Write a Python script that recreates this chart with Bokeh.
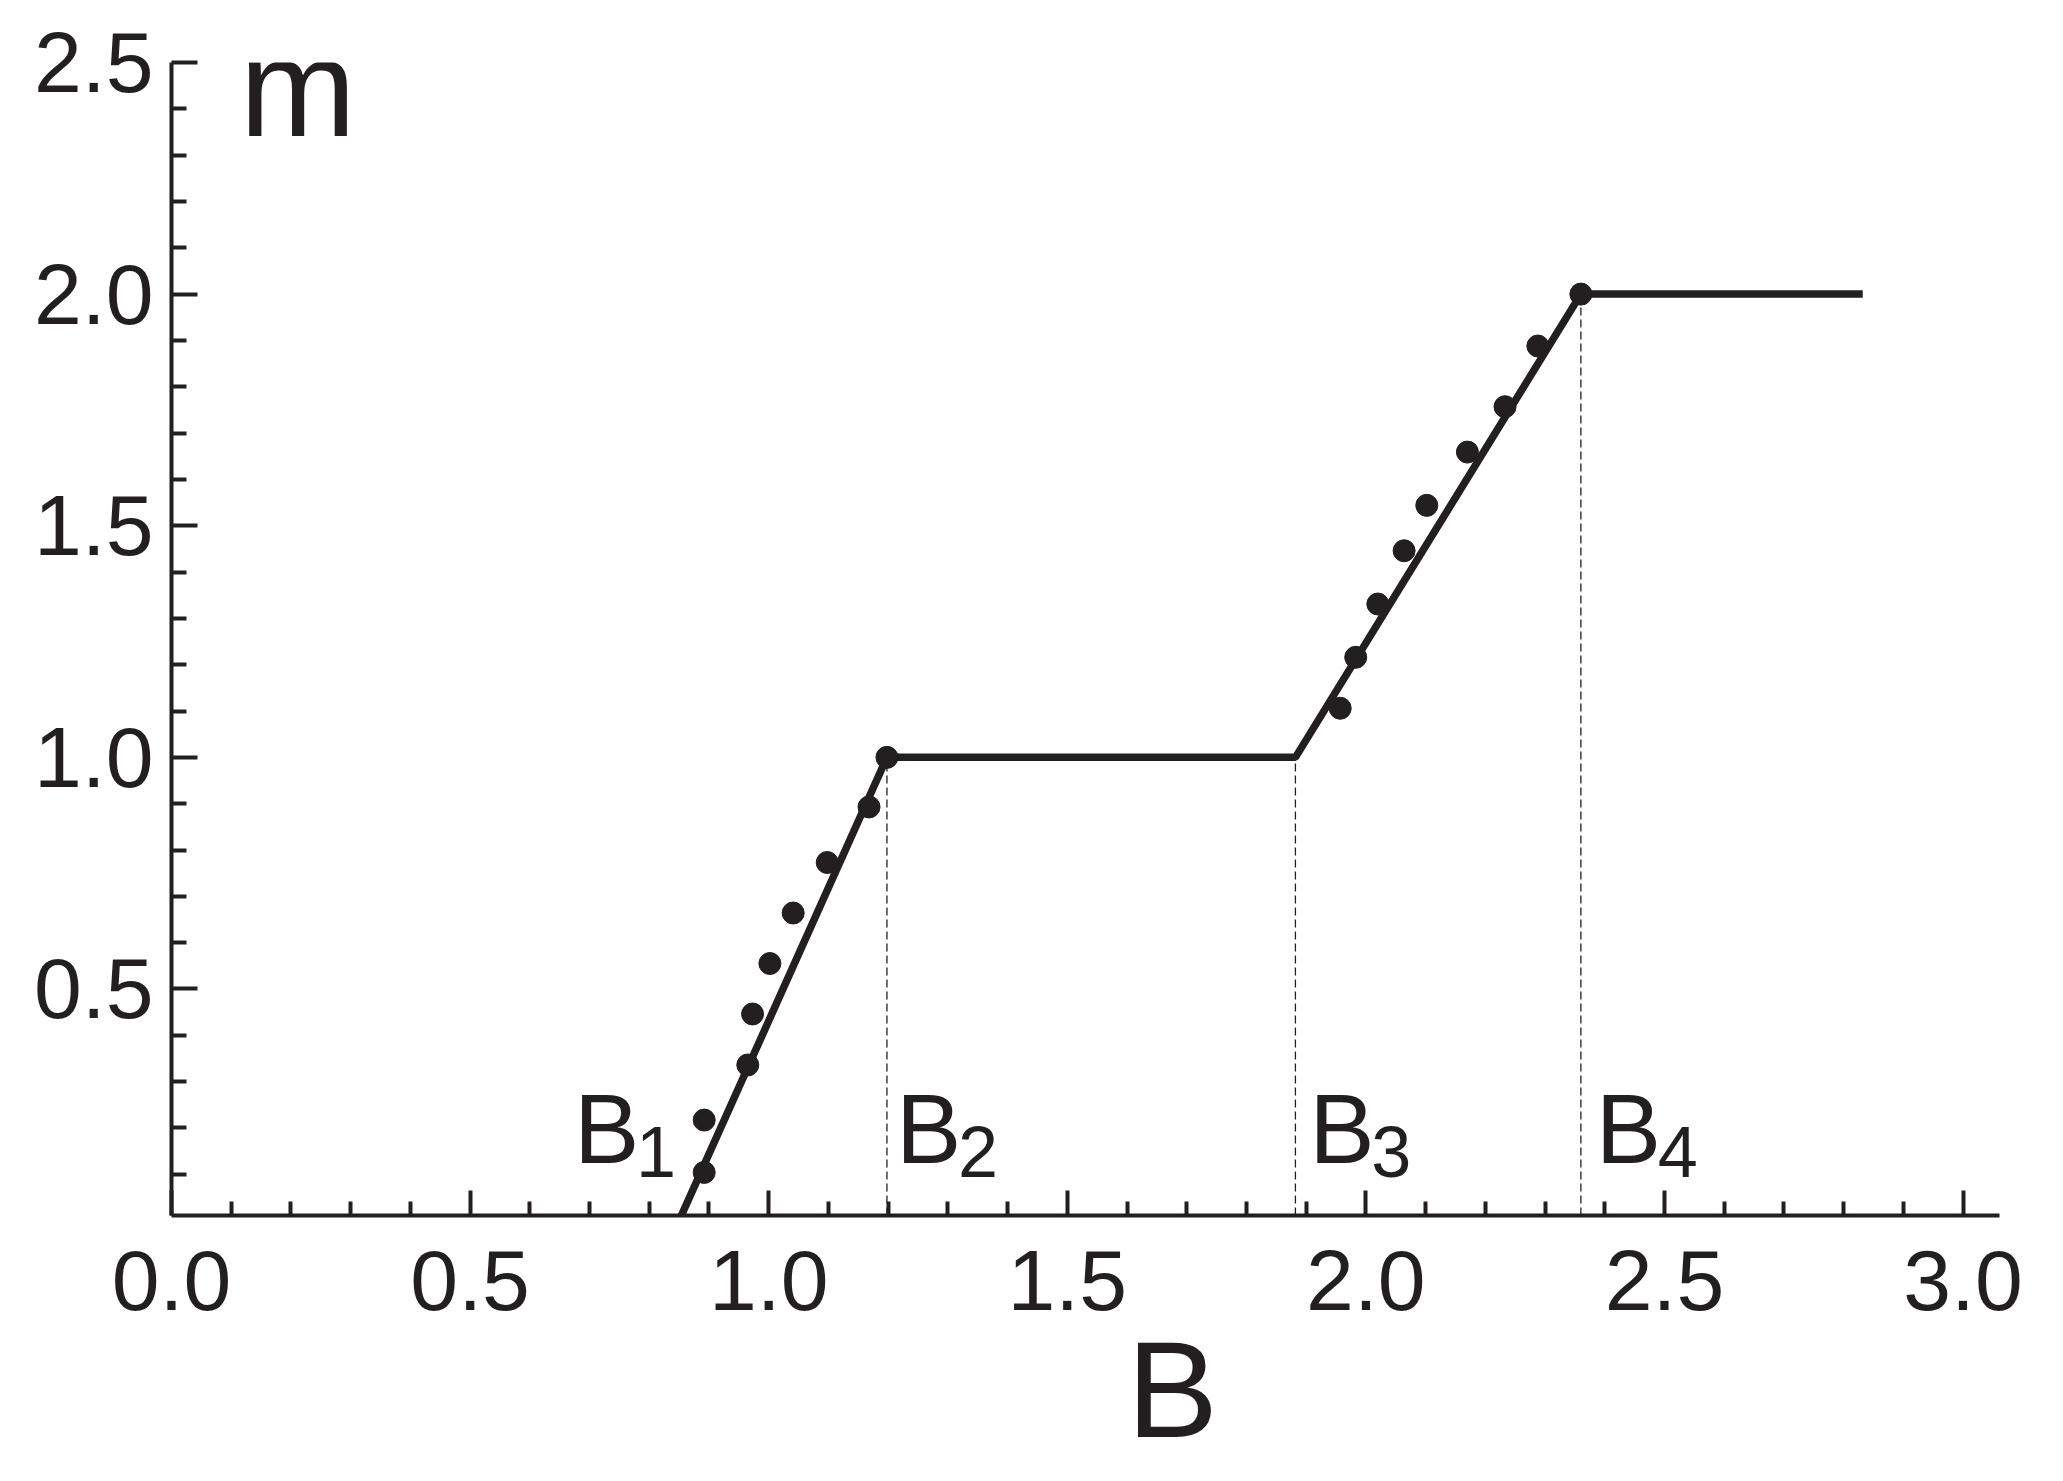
from bokeh.plotting import figure
from bokeh.models import Range1d, FixedTicker, Label, LinearAxis
from bokeh.embed import file_html
from bokeh.resources import INLINE

# ---- data ----
ramp1_B = [0.892, 0.892, 0.965, 0.973, 1.002, 1.041, 1.098, 1.168, 1.198]
ramp1_m = [0.104, 0.217, 0.336, 0.446, 0.555, 0.664, 0.773, 0.893, 1.000]
ramp2_B = [1.957, 1.983, 2.020, 2.064, 2.102, 2.170, 2.233, 2.288, 2.360]
ramp2_m = [1.106, 1.216, 1.331, 1.446, 1.544, 1.659, 1.757, 1.888, 2.000]

fit_B = [0.843, 1.198, 1.882, 2.360, 2.832]
fit_m = [-0.02, 1.000, 1.000, 2.000, 2.000]

crit_B = [1.198, 1.882, 2.360]      # B2, B3, B4
crit_m = [1.000, 1.000, 2.000]
crit_names = ["1", "2", "3", "4"]

x_major = [0.0, 0.5, 1.0, 1.5, 2.0, 2.5, 3.0]
x_major_labels = ["0.0", "0.5", "1.0", "1.5", "2.0", "2.5", "3.0"]
y_major = [0.5, 1.0, 1.5, 2.0, 2.5]
y_major_labels = ["0.5", "1.0", "1.5", "2.0", "2.5"]
x_title = "B"
y_title = "m"

INK = "#231f20"
FONT = "Liberation Sans"

p = figure(frame_width=1828, frame_height=1153, output_backend="svg", toolbar_location=None,
           x_range=Range1d(0, 3.061), y_range=Range1d(0.011, 2.5),
           min_border_left=171, min_border_right=41,
           min_border_top=62, min_border_bottom=0)
p.outline_line_color = None
p.xgrid.visible = False
p.ygrid.visible = False
p.background_fill_color = "white"
p.border_fill_color = "white"

x_minor = [round(i * 0.1, 1) for i in range(1, 31) if i % 5 != 0]
y_minor = [round(i * 0.1, 1) for i in range(1, 25) if i % 5 != 0]
p.xaxis.ticker = FixedTicker(ticks=x_major, minor_ticks=x_minor)
p.yaxis.ticker = FixedTicker(ticks=y_major, minor_ticks=y_minor)
p.xaxis.major_label_overrides = dict(zip(x_major, x_major_labels))
p.yaxis.major_label_overrides = dict(zip(y_major, y_major_labels))

for ax, maj, mnr in ((p.xaxis, 25, 14), (p.yaxis, 26, 15)):
    ax.axis_line_width = 4
    ax.axis_line_color = INK
    ax.major_tick_line_width = 4
    ax.minor_tick_line_width = 4
    ax.major_tick_line_color = INK
    ax.minor_tick_line_color = INK
    ax.major_tick_in = maj
    ax.major_tick_out = 0
    ax.minor_tick_in = mnr
    ax.minor_tick_out = 0
    ax.major_label_text_font = FONT
    ax.major_label_text_font_size = "86px"
    ax.major_label_text_color = INK
p.xaxis.major_label_standoff = 35
p.yaxis.major_label_standoff = 18

# x-axis title placed off-centre like the reference, via a tick-less second axis
title_pos = 1.676
bx = LinearAxis(ticker=FixedTicker(ticks=[title_pos], minor_ticks=[]),
                major_label_overrides={title_pos: x_title},
                axis_line_color=None, major_tick_line_color=None,
                minor_tick_line_color=None, major_tick_out=0, major_tick_in=0,
                minor_tick_out=0, minor_tick_in=0,
                major_label_text_font=FONT, major_label_text_font_size="137px",
                major_label_text_color=INK, major_label_standoff=0)
p.add_layout(bx, "below")

# dashed guide lines at the critical fields
for b, m in zip(crit_B, crit_m):
    p.line([b, b], [0.011, m], line_color=INK, line_width=1.3, line_dash="8 4")

# piecewise linear model
p.line(fit_B, fit_m, line_color=INK, line_width=7.5)

# measured points
p.scatter(ramp1_B, ramp1_m, size=22, color=INK)
p.scatter(ramp2_B, ramp2_m, size=22, color=INK)

# labels
p.add_layout(Label(x=0.114, y=2.447, text=y_title, text_font=FONT, text_font_size="140px",
                   text_color=INK, text_baseline="alphabetic"))

b_label_x = [0.674, 1.213, 1.905, 2.385]
for bx_, name in zip(b_label_x, crit_names):
    p.add_layout(Label(x=bx_, y=0.197, text="B", text_font=FONT, text_font_size="98px",
                       text_color=INK, text_baseline="alphabetic"))
    p.add_layout(Label(x=bx_, y=0.147, x_offset=62, text=name, text_font=FONT,
                       text_font_size="72px", text_color=INK, text_baseline="alphabetic"))

open("out.html", "w").write(file_html(p, INLINE))
